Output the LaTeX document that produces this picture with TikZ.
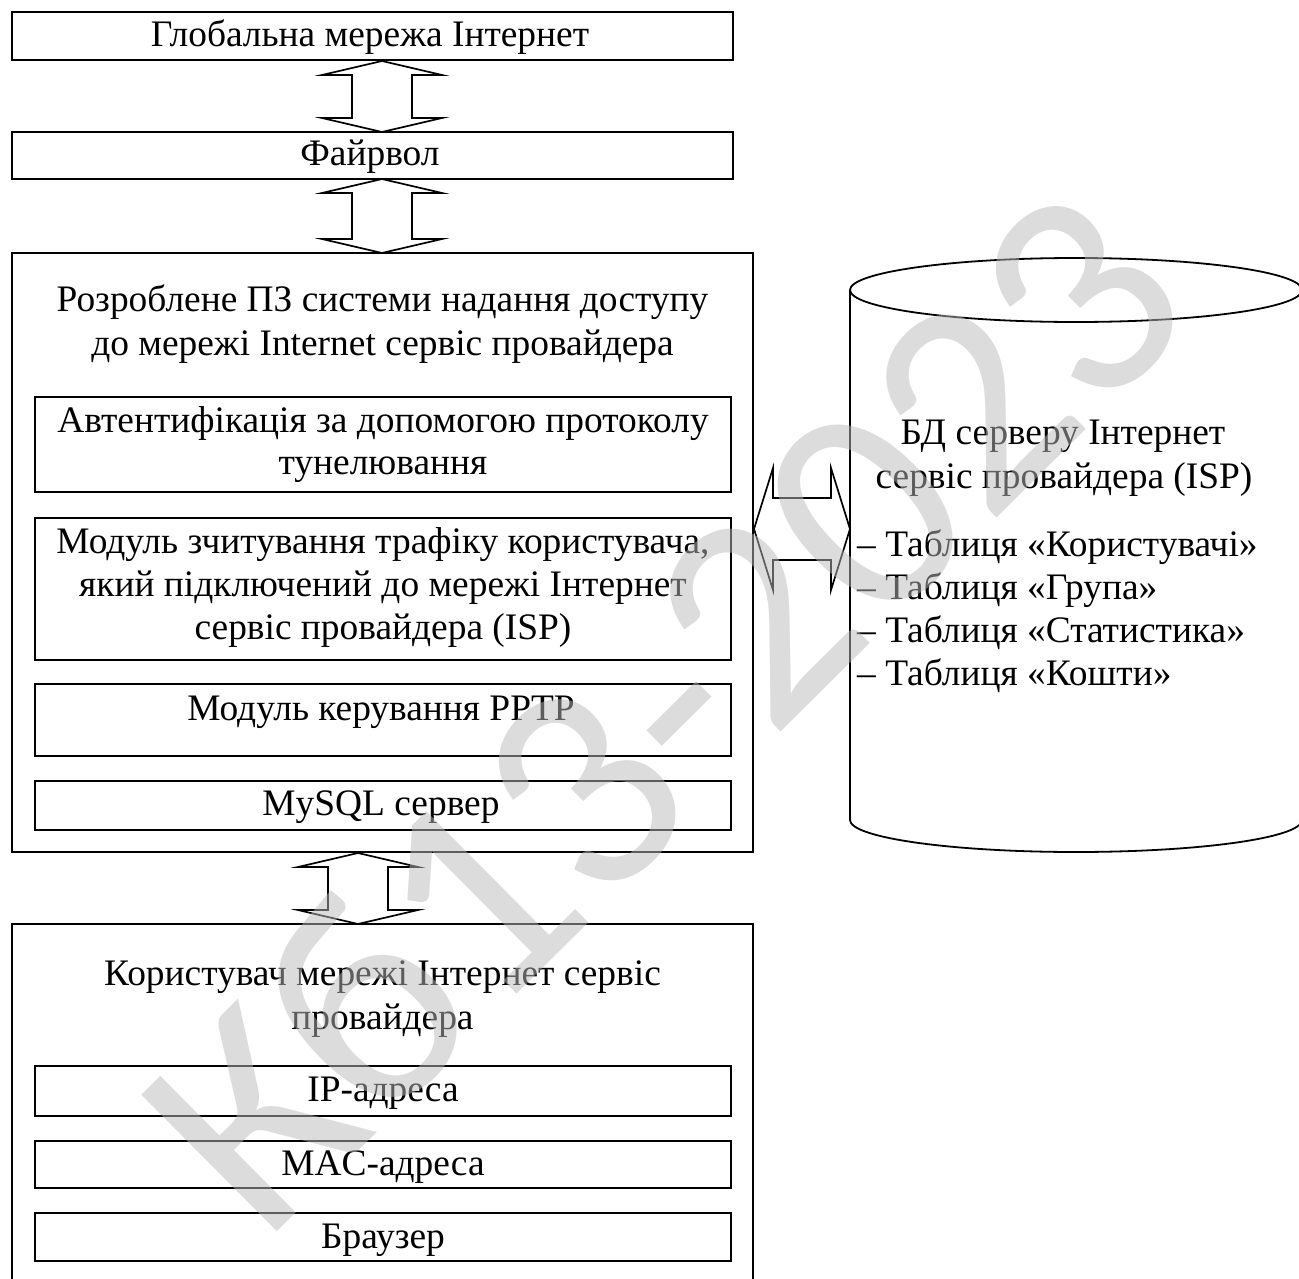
\documentclass[tikz,border=0pt]{standalone}
\usepackage{fontspec}
\setmainfont{Liberation Serif}
\newfontfamily\wmfont{Carlito}
\usetikzlibrary{calc}
\tikzset{
  boxn/.style={draw, line width=2pt, inner sep=0pt, outer sep=0pt},
  lbl/.style={font=\fontsize{37.4}{43}\selectfont, inner sep=0pt, anchor=base},
  lbll/.style={lbl, anchor=base west},
  arr/.style={draw, line width=1.7pt, line join=miter},
  cyl/.style={draw, line width=1.8pt},
  wm/.style={text=black!27, opacity=0.5, inner sep=0pt,
    font=\wmfont\fontsize{300}{300}\selectfont},
}
\newcommand{\dblvarrow}[2]{%
  \draw[arr] (#1) -- ($(#1)+(60,14)$) -- ($(#1)+(30,14)$) -- ($(#2)+(30,-14)$)
    -- ($(#2)+(60,-14)$) -- (#2) -- ($(#2)+(-60,-14)$) -- ($(#2)+(-30,-14)$)
    -- ($(#1)+(-30,14)$) -- ($(#1)+(-60,14)$) -- cycle;}
\newcommand{\dblharrow}[2]{%
  \draw[arr] (#1) -- ($(#1)+(19,-61)$) -- ($(#1)+(19,-31)$) -- ($(#2)+(-19,-31)$)
    -- ($(#2)+(-19,-61)$) -- (#2) -- ($(#2)+(-19,61)$) -- ($(#2)+(-19,31)$)
    -- ($(#1)+(19,31)$) -- ($(#1)+(19,61)$) -- cycle;}
\begin{document}
\begin{tikzpicture}[x=1pt,y=-1pt]
\clip (0,0) rectangle (1299,1279);
\fill[white] (0,0) rectangle (1299,1279);

% top boxes
\node[boxn, minimum width=721, minimum height=48] (b1) at (372.5,36) {};
\node[lbl] (t1) at (370,47) {Глобальна мережа Інтернет};
\node[boxn, minimum width=721, minimum height=47] (b2) at (372.5,155.5) {};
\node[lbl] (t2) at (370,166) {Файрвол};

% main software box
\node[boxn, minimum width=741, minimum height=599] (b3) at (382.5,552.5) {};
\node[lbl] (t3a) at (382.5,311) {Розроблене ПЗ системи надання доступу};
\node[lbl] (t3b) at (382.5,355) {до мережі Internet сервіс провайдера};

\node[boxn, minimum width=696, minimum height=95] (bA) at (383,444.5) {};
\node[lbl] (tAa) at (383,432) {Автентифікація за допомогою протоколу};
\node[lbl] (tAb) at (383,474) {тунелювання};

\node[boxn, minimum width=696, minimum height=142] (bB) at (383,589) {};
\node[lbl] (tBa) at (383,553) {Модуль зчитування трафіку користувача,};
\node[lbl] (tBb) at (383,596) {який підключений до мережі Інтернет};
\node[lbl] (tBc) at (383,639) {сервіс провайдера (ISP)};

\node[boxn, minimum width=696, minimum height=72] (bC) at (383,720) {};
\node[lbl] (tC) at (381,720) {Модуль керування PPTP};

\node[boxn, minimum width=696, minimum height=49] (bD) at (383,805.5) {};
\node[lbl] (tD) at (381,815) {MySQL сервер};

% user box
\node[boxn, minimum width=741, minimum height=376] (b4) at (382.5,1112) {};
\node[lbl] (t4a) at (382.5,985) {Користувач мережі Інтернет сервіс};
\node[lbl] (t4b) at (382.5,1029) {провайдера};

\node[boxn, minimum width=696, minimum height=50] (bIP) at (383,1091) {};
\node[lbl] (tIP) at (383,1101) {IP-адреса};
\node[boxn, minimum width=696, minimum height=47] (bMAC) at (383,1164.5) {};
\node[lbl] (tMAC) at (383,1175) {MAC-адреса};
\node[boxn, minimum width=696, minimum height=48] (bBr) at (383,1237) {};
\node[lbl] (tBr) at (383,1248) {Браузер};

% database cylinder
\node[minimum width=452, minimum height=594, inner sep=0pt, outer sep=0pt] (db) at (1076,555) {};
\draw[cyl] (1076,290) ellipse [x radius=226, y radius=32];
\draw[cyl] (850,290) -- (850,820) arc [start angle=180, end angle=0, x radius=226, y radius=32] -- (1302,290);
\node[lbl] (tdb1) at (1063,444) {БД серверу Інтернет};
\node[lbl] (tdb2) at (1064,488) {сервіс провайдера (ISP)};
\node[lbll] (l1) at (857,556) {– Таблиця «Користувачі»};
\node[lbll] (l2) at (857,599) {– Таблиця «Група»};
\node[lbll] (l3) at (857,642) {– Таблиця «Статистика»};
\node[lbll] (l4) at (857,685) {– Таблиця «Кошти»};

% double arrows
\coordinate (a1t) at (382,61);  \coordinate (a1b) at (382,132);
\coordinate (a2t) at (382,179); \coordinate (a2b) at (382,253);
\coordinate (a3t) at (358,853); \coordinate (a3b) at (358,924);
\coordinate (hL) at (754,529);  \coordinate (hR) at (db.west |- hL);
\dblvarrow{a1t}{a1b}
\dblvarrow{a2t}{a2b}
\dblvarrow{a3t}{a3b}
\dblharrow{hL}{hR}

% watermark
\node[wm, rotate=44.8] (wmark) at (662,708) {Кб13-2023};
\end{tikzpicture}
\end{document}
